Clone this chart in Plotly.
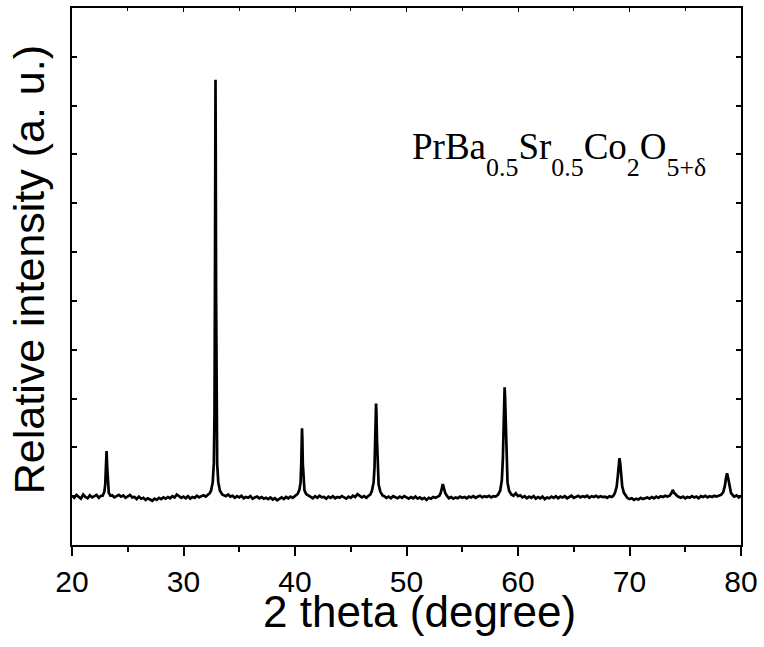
import plotly.graph_objects as go

# XRD pattern (2theta in degrees, relative intensity in %)
two_theta = [
    20.0, 20.2, 20.4, 20.6, 20.8, 21.0, 21.2, 21.4, 21.6, 21.8, 22.0, 22.2, 22.4, 22.6,
    22.75, 22.9, 22.98, 23.04, 23.1, 23.16, 23.22, 23.3, 23.45,
    23.6, 23.8, 24.0, 24.2, 24.4, 24.6, 24.8, 25.0, 25.2, 25.4, 25.6, 25.8, 26.0, 26.2, 26.4,
    26.6, 26.8, 27.0, 27.2, 27.4, 27.6, 27.8, 28.0, 28.2, 28.4, 28.6, 28.8, 29.0, 29.2, 29.4,
    29.6, 29.8, 30.0, 30.2, 30.4, 30.6, 30.8, 31.0, 31.2, 31.4, 31.6, 31.8, 32.0,
    32.2, 32.35, 32.47, 32.62, 32.72, 32.78, 32.82, 32.85, 32.87, 32.89, 32.92, 32.96, 33.02,
    33.12, 33.27, 33.47,
    33.6, 33.8, 34.0, 34.2, 34.4, 34.6, 34.8, 35.0, 35.2, 35.4, 35.6, 35.8, 36.0, 36.2, 36.4,
    36.6, 36.8, 37.0, 37.2, 37.4, 37.6, 37.8, 38.0, 38.2, 38.4, 38.6, 38.8, 39.0, 39.2, 39.4,
    39.6, 39.8,
    40.0, 40.25, 40.4, 40.5, 40.56, 40.6, 40.63, 40.66, 40.7, 40.76, 40.85, 41.0, 41.2,
    41.4, 41.6, 41.8, 42.0, 42.2, 42.4, 42.6, 42.8, 43.0, 43.2, 43.4, 43.6, 43.8, 44.0, 44.2,
    44.4, 44.6, 44.8, 45.0, 45.2, 45.4, 45.6, 45.8, 46.0, 46.2, 46.4, 46.6,
    46.75, 46.9, 47.05, 47.13, 47.2, 47.24, 47.27, 47.3, 47.35, 47.42, 47.5, 47.65, 47.85,
    48.0, 48.2, 48.4, 48.6, 48.8, 49.0, 49.2, 49.4, 49.6, 49.8, 50.0, 50.2, 50.4, 50.6, 50.8,
    51.0, 51.2, 51.4, 51.6, 51.8, 52.0, 52.2, 52.4, 52.6, 52.8,
    52.95, 53.07, 53.16, 53.26, 53.36, 53.48, 53.65,
    53.8, 54.0, 54.2, 54.4, 54.6, 54.8, 55.0, 55.2, 55.4, 55.6, 55.8, 56.0, 56.2, 56.4, 56.6,
    56.8, 57.0, 57.2, 57.4, 57.6, 57.8, 58.0,
    58.2, 58.4, 58.55, 58.64, 58.71, 58.76, 58.8, 58.84, 58.9, 58.97, 59.06, 59.2, 59.4,
    59.6, 59.8, 60.0, 60.2, 60.4, 60.6, 60.8, 61.0, 61.2, 61.4, 61.6, 61.8, 62.0, 62.2, 62.4,
    62.6, 62.8, 63.0, 63.2, 63.4, 63.6, 63.8, 64.0, 64.2, 64.4, 64.6, 64.8, 65.0, 65.2, 65.4,
    65.6, 65.8, 66.0, 66.2, 66.4, 66.6, 66.8, 67.0, 67.2, 67.4, 67.6, 67.8, 68.0, 68.2, 68.4,
    68.55, 68.7, 68.85, 68.95, 69.03, 69.1, 69.17, 69.25, 69.35, 69.5, 69.7,
    69.8, 70.0, 70.2, 70.4, 70.6, 70.8, 71.0, 71.2, 71.4, 71.6, 71.8, 72.0, 72.2, 72.4, 72.6,
    72.8, 73.0, 73.2, 73.4,
    73.6, 73.75, 73.88, 74.0, 74.15, 74.35,
    74.6, 74.8, 75.0, 75.2, 75.4, 75.6, 75.8, 76.0, 76.2, 76.4, 76.6, 76.8, 77.0, 77.2, 77.4,
    77.6, 77.8, 78.0,
    78.2, 78.4, 78.55, 78.65, 78.75, 78.85, 78.97, 79.1, 79.3,
    79.4, 79.6, 79.8, 80.0,
]

intensity = [
    0.3, -0.2, 0.5, 0.1, -0.4, 0.6, 0.0, -0.3, 0.4, -0.1, 0.2, 0.5, -0.2, 0.3,
    0.3, 1.2, 3.0, 7.0, 11.0, 7.0, 3.0, 1.0, 0.3,
    0.4, -0.1, 0.3, 0.5, 0.1, 0.4, -0.2, 0.2, 0.5, -0.1, 0.0, -0.5, 0.1, -0.4, -0.2,
    -0.7, -0.3, -0.6, -0.9, -0.4, -0.7, -0.2, -0.5, -0.1, -0.4, 0.0, -0.3, 0.2, -0.1, 0.6,
    0.3, -0.2, 0.1, -0.3, 0.2, -0.4, 0.0, -0.2, 0.3, -0.1, 0.2, 0.4, 0.1,
    0.6, 0.9, 1.5, 3.5, 8.0, 20.0, 50.0, 85.0, 100.0, 85.0, 50.0, 20.0, 8.0,
    3.5, 1.5, 0.6,
    0.5, 0.2, 0.6, 0.1, 0.3, -0.2, 0.2, -0.1, 0.3, -0.3, 0.0, -0.2, 0.2, -0.4, -0.1,
    0.1, -0.3, 0.0, -0.4, -0.2, -0.5, -0.1, -0.6, -0.3, -0.8, -0.4, -0.1, -0.5, 0.0, -0.3,
    0.1, -0.2,
    0.2, 0.8, 1.8, 3.5, 8.0, 14.0, 16.5, 14.0, 8.0, 3.5, 1.6, 0.7, 0.3,
    0.1, -0.3, 0.2, -0.2, 0.3, -0.1, 0.0, -0.4, 0.1, -0.2, 0.2, -0.3, 0.0, -0.2, 0.2,
    -0.1, -0.4, 0.1, -0.2, 0.3, 0.0, 0.7, 0.2, -0.1, 0.2, -0.2, 0.3,
    0.6, 1.5, 3.5, 7.0, 15.0, 20.5, 22.4, 20.5, 14.0, 6.5, 3.0, 1.3, 0.4,
    0.2, -0.2, 0.1, -0.3, 0.2, 0.0, -0.3, 0.1, -0.2, 0.2, -0.1, -0.4, 0.0, -0.3, 0.1,
    -0.4, -0.1, -0.5, -0.2, -0.7, -0.2, -0.4, 0.0, -0.2, 0.1,
    0.3, 1.0, 2.1, 3.1, 2.1, 0.9, 0.2,
    -0.3, 0.0, -0.4, -0.1, -0.3, 0.1, -0.2, 0.0, -0.3, 0.1, -0.1, 0.2, -0.2, 0.1, 0.3,
    -0.1, 0.2, 0.0, 0.3, -0.1, 0.2, 0.1,
    0.5, 1.5, 4.0, 9.0, 17.0, 24.0, 26.3, 24.0, 16.0, 8.0, 3.5, 1.5, 0.6,
    0.3, 0.9, 0.2, 0.4, -0.1, 0.2, -0.3, 0.1, -0.2, 0.2, -0.4, 0.0, -0.3, 0.1, -0.5,
    -0.1, -0.3, 0.1, -0.2, 0.2, -0.3, 0.1, -0.1, 0.2, -0.3, 0.0, 0.3, -0.2, 0.1, 0.3,
    -0.1, 0.2, 0.0, 0.3, -0.2, 0.2, 0.0, 0.3, -0.1, 0.2, 0.0, 0.1, -0.2, 0.2, 0.0,
    0.3, 1.0, 2.5, 5.0, 8.0, 9.3, 8.0, 5.0, 2.5, 1.0, 0.3,
    -0.2, -0.5, -0.3, -0.7, -0.4, -0.6, -0.2, -0.5, -0.3, -0.1, -0.4, 0.0, -0.3, 0.1, -0.2,
    0.2, 0.0, 0.3, 0.1,
    0.3, 0.9, 1.7, 1.0, 0.5, 0.1,
    -0.2, 0.1, -0.3, 0.0, -0.2, 0.2, -0.1, 0.1, -0.3, 0.2, 0.0, 0.3, -0.1, 0.2, 0.0,
    0.3, 0.1, 0.4,
    0.5, 1.1, 2.6, 4.5, 5.7, 4.5, 2.3, 1.0, 0.3,
    0.1, 0.4, -0.1, 0.3,
]

x_range = [20, 80]
x_ticks = [20, 30, 40, 50, 60, 70, 80]
y_range = [-11.5, 117.2]
y_tick_step = 11.7

x_title = "2 theta (degree)"
y_title = "Relative intensity (a. u.)"


def sub(s):
    return '<sub><span style="baseline-shift:-0.35em">' + s + "</span></sub>"


compound_label = "PrBa" + sub("0.5") + "Sr" + sub("0.5") + "Co" + sub("2") + "O" + sub("5+δ")

SANS = "Liberation Sans, Arial, sans-serif"
SERIF = "Liberation Serif, Times New Roman, serif"

fig = go.Figure()
fig.add_trace(go.Scatter(
    x=two_theta, y=intensity, mode="lines",
    line=dict(color="black", width=2.7),
    showlegend=False, hoverinfo="skip",
))
# invisible copy on a top overlay axis to draw inward top ticks
fig.add_trace(go.Scatter(
    x=two_theta, y=intensity, mode="lines", xaxis="x2",
    line=dict(color="rgba(0,0,0,0)", width=0),
    showlegend=False, hoverinfo="skip",
))

fig.update_layout(
    width=764, height=647,
    margin=dict(l=72, r=20, t=6, b=102),
    paper_bgcolor="white", plot_bgcolor="white",
    font=dict(family=SANS, color="black"),
    xaxis=dict(
        range=x_range, tickvals=x_ticks,
        ticks="outside", ticklen=9, tickwidth=2, tickcolor="black",
        minor=dict(ticks="outside", ticklen=5, tickwidth=2, tickcolor="black", dtick=5, tick0=20),
        showline=True, linewidth=2, linecolor="black", mirror=True,
        showgrid=False, zeroline=False,
        tickfont=dict(size=30, family=SANS),
    ),
    xaxis2=dict(
        range=x_range, tickvals=x_ticks, overlaying="x", side="top",
        ticks="inside", ticklen=4, tickwidth=1, tickcolor="black",
        minor=dict(ticks="inside", ticklen=3, tickwidth=1, tickcolor="black", dtick=5, tick0=20),
        showticklabels=False, showline=False, showgrid=False, zeroline=False,
    ),
    yaxis=dict(
        range=y_range, tick0=y_range[0], dtick=y_tick_step,
        ticks="inside", ticklen=5, tickwidth=1.5, tickcolor="black",
        showticklabels=False,
        showline=True, linewidth=2, linecolor="black", mirror="ticks",
        showgrid=False, zeroline=False,
    ),
    annotations=[
        dict(text=x_title, x=0.519, y=-0.123, xref="paper", yref="paper",
             xanchor="center", yanchor="middle", showarrow=False, borderpad=0,
             font=dict(family=SANS, size=44, color="black")),
        dict(text=y_title, x=-0.064, y=0.512, xref="paper", yref="paper",
             xanchor="center", yanchor="middle", showarrow=False, textangle=-90,
             font=dict(family=SANS, size=43, color="black")),
        dict(text=compound_label, x=0.505, y=0.728, xref="paper", yref="paper",
             xanchor="left", yanchor="middle", showarrow=False,
             font=dict(family=SERIF, size=37, color="black")),
    ],
)

fig.write_html("out.html")
